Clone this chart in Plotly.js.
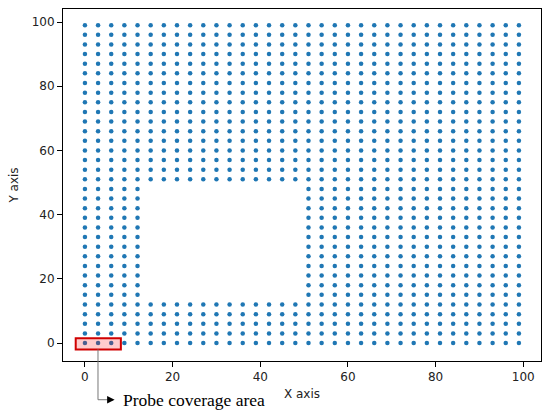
<!DOCTYPE html>
<html>
<head>
<meta charset="utf-8">
<script src="https://cdn.plot.ly/plotly-3.0.1.min.js"></script>
<style>
  html, body { margin: 0; padding: 0; background: #fff; }
  #plot { width: 550px; height: 416px; }
</style>
</head>
<body>
<div id="plot"></div>
<script>
// Sampling grid of probe positions (step 3, from 0 to 99)
let grid_x = [0, 3, 6, 9, 12, 15, 18, 21, 24, 27, 30, 33, 36, 39, 42, 45, 48, 51, 54, 57, 60, 63, 66, 69, 72, 75, 78, 81, 84, 87, 90, 93, 96, 99];
let grid_y = [0, 3, 6, 9, 12, 15, 18, 21, 24, 27, 30, 33, 36, 39, 42, 45, 48, 51, 54, 57, 60, 63, 66, 69, 72, 75, 78, 81, 84, 87, 90, 93, 96, 99];

// Empty region with no sampling points
let hole_x = [15, 48];
let hole_y = [15, 48];

// Probe coverage box (x range, y range)
let probe_x = [-2.1, 8.2];
let probe_y = [-2, 1.5];

let xs = [];
let ys = [];
grid_y.forEach(function (y) {
  grid_x.forEach(function (x) {
    let inHole = x >= hole_x[0] && x <= hole_x[1] && y >= hole_y[0] && y <= hole_y[1];
    if (!inHole) {
      xs.push(x);
      ys.push(y);
    }
  });
});

var trace = {
  x: xs,
  y: ys,
  type: 'scatter',
  mode: 'markers',
  marker: {color: '#1f77b4', size: 4.5},
  hoverinfo: 'x+y'
};

var axisStyle = {
  showgrid: false,
  zeroline: false,
  showline: true,
  mirror: true,
  linecolor: '#000',
  linewidth: 1,
  ticks: 'outside',
  ticklen: 5,
  tickcolor: '#000',
  tickfont: {family: 'DejaVu Sans', size: 12, color: '#222'},
  tickvals: [0, 20, 40, 60, 80, 100]
};

var layout = {
  width: 550,
  height: 416,
  margin: {l: 63, r: 9, t: 9, b: 55},
  paper_bgcolor: '#fff',
  plot_bgcolor: '#fff',
  showlegend: false,
  xaxis: Object.assign({}, axisStyle, {
    range: [-5, 104.04],
    title: {text: 'X axis', font: {family: 'DejaVu Sans', size: 12, color: '#222'}, standoff: 6}
  }),
  yaxis: Object.assign({}, axisStyle, {
    range: [-5.6, 104.05],
    title: {text: 'Y axis', font: {family: 'DejaVu Sans', size: 12, color: '#222'}, standoff: 10}
  }),
  shapes: [
    // probe box
    {type: 'rect', xref: 'x', yref: 'y', x0: probe_x[0], x1: probe_x[1], y0: probe_y[0], y1: probe_y[1],
     line: {color: '#d00000', width: 2}, fillcolor: 'rgba(255,0,0,0.2)'},
    // leader line down and right
    {type: 'line', xref: 'paper', yref: 'paper', x0: 0.0732, x1: 0.0732, y0: 0.033, y1: -0.11,
     line: {color: '#777', width: 1}},
    {type: 'line', xref: 'paper', yref: 'paper', x0: 0.0732, x1: 0.1, y0: -0.11, y1: -0.11,
     line: {color: '#777', width: 1}}
  ],
  annotations: [
    {xref: 'paper', yref: 'paper', x: 0.108, y: -0.11, ax: -8, ay: 0, text: '',
     showarrow: true, arrowhead: 2, arrowsize: 1, arrowwidth: 1.5, arrowcolor: '#000'},
    {xref: 'paper', yref: 'paper', x: 0.122, y: -0.11, xanchor: 'left', yanchor: 'middle',
     text: 'Probe coverage area', showarrow: false,
     font: {family: 'Liberation Serif', size: 17.5, color: '#000'}}
  ]
};

Plotly.newPlot('plot', [trace], layout, {displayModeBar: false});
</script>
</body>
</html>
